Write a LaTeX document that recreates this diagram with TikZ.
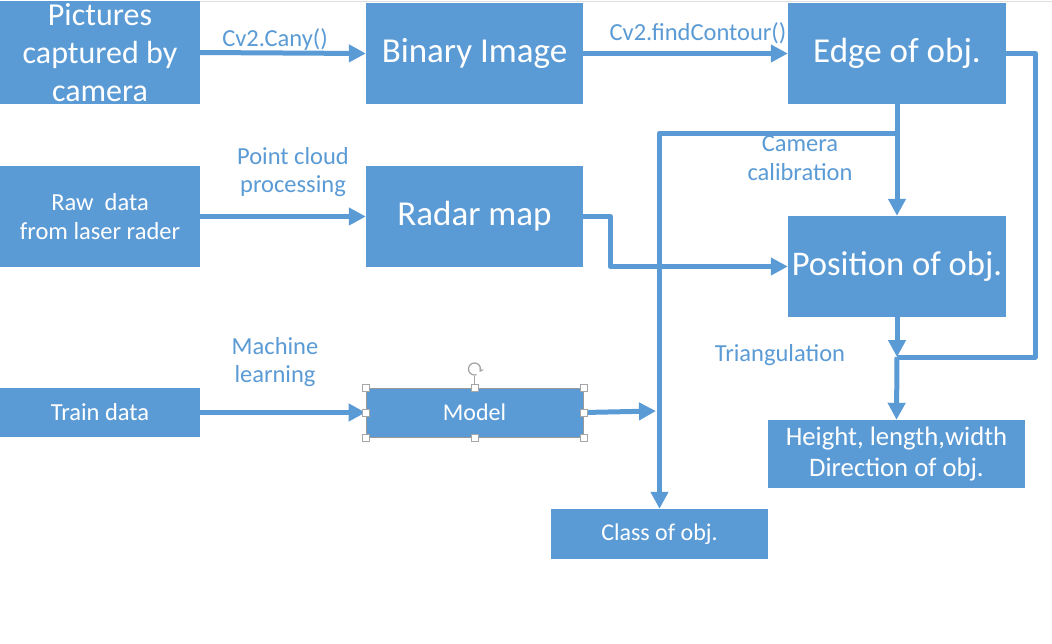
\documentclass[tikz,border=0pt]{standalone}
\usepackage{fontspec}
\setmainfont{Carlito}
\usetikzlibrary{arrows.meta}
\definecolor{obl}{HTML}{5B9BD5}
\tikzset{
  box/.style={rectangle, fill=obl, text=white, align=center, inner sep=0pt},
  conn/.style={draw=obl, line width=5pt, line join=round, -{Triangle[length=17pt,width=17pt]}},
  plain/.style={draw=obl, line width=5pt, line join=round},
  lbl/.style={text=obl, align=center, inner sep=0pt, font=\fontsize{24.5}{28.5}\selectfont},
  handle/.style={draw=gray!70, fill=white, line width=0.8pt, minimum size=7pt, inner sep=0pt, rectangle},
}
\begin{document}
\begin{tikzpicture}[x=1pt,y=-1pt]
\useasboundingbox (0,0) rectangle (1052,643);
\fill[white] (0,0) rectangle (1052,643);
\draw[gray!25, line width=1pt] (0,1.5) -- (1052,1.5);

% nodes
\node[box, minimum width=200pt, minimum height=103pt, font=\fontsize{32}{38}\selectfont] (pic) at (100,52.5) {Pictures\\captured by\\camera};
\node[box, minimum width=217pt, minimum height=101pt, font=\fontsize{35}{40}\selectfont] (bin) at (474.5,53.5) {Binary Image};
\node[box, minimum width=218pt, minimum height=101pt, font=\fontsize{35}{40}\selectfont] (edge) at (897,53.5) {Edge of obj.};
\node[box, minimum width=200pt, minimum height=101pt, font=\fontsize{24.5}{29}\selectfont] (raw) at (100,216.5) {Raw~ data\\from laser rader};
\node[box, minimum width=217pt, minimum height=101pt, font=\fontsize{35}{40}\selectfont] (radar) at (474.5,216.5) {Radar map};
\node[box, minimum width=218pt, minimum height=101pt, font=\fontsize{34.6}{40}\selectfont] (pos) at (897,266.5) {Position of obj.};
\node[box, minimum width=200pt, minimum height=49pt, font=\fontsize{24.5}{28}\selectfont] (train) at (100,412.5) {Train data};
\node[box, draw=gray!80, line width=0.8pt, minimum width=217pt, minimum height=49pt, font=\fontsize{24}{28}\selectfont] (model) at (474.5,412.5) {Model};
\node[box, minimum width=257pt, minimum height=68pt, font=\fontsize{26.7}{30.5}\selectfont] (hgt) at (896.5,454) {Height, length,width\\Direction of obj.};
\node[box, minimum width=217pt, minimum height=50pt, font=\fontsize{24}{28}\selectfont] (cls) at (659.5,534) {Class of obj.};

% junction coordinates
\coordinate (tj) at (897,357);
\coordinate (br) at (897,133);
\coordinate (mj) at (656,411);

% connectors
\draw[conn] (pic.east) -- (bin.west);
\draw[conn] (bin.east) -- (edge.west);
\draw[conn] (raw.east) -- (radar.west);
\draw[conn] (train.east) -- (model.west);
\draw[plain] (edge.east) -- ++(29,0) |- (tj);
\draw[conn] (edge.south) -- (pos.north);
\draw[conn] (br) -| (cls.north);
\draw[conn] (radar.east) -- ++(27,0) |- (pos.west);
\draw[conn] (pos.south) -- (tj);
\draw[conn] (tj) -- (hgt.north);
\draw[conn] (model.east) -- (mj);

% labels
\node[lbl] (l1) at (275,40) {Cv2.Cany()};
\node[lbl] (l2) at (698,33) {Cv2.findContour()};
\node[lbl] (l3) at (293,172) {Point cloud\\processing};
\node[lbl] (l4) at (800,158) {Camera\\calibration};
\node[lbl] (l5) at (275,362) {Machine\\learning};
\node[lbl] (l6) at (780,355) {Triangulation};

% selection handles on Model
\draw[gray!70, line width=0.8pt] (model.north) -- ++(0,-12) coordinate (rh);
\draw[gray!70, line width=1.3pt, -{Stealth[length=4pt,width=5pt]}] (474.5,369) ++(70:6) arc[start angle=70, end angle=390, radius=6];
\foreach \a in {north west, north, north east, west, east, south west, south, south east}
  \node[handle] at (model.\a) {};
\end{tikzpicture}
\end{document}
